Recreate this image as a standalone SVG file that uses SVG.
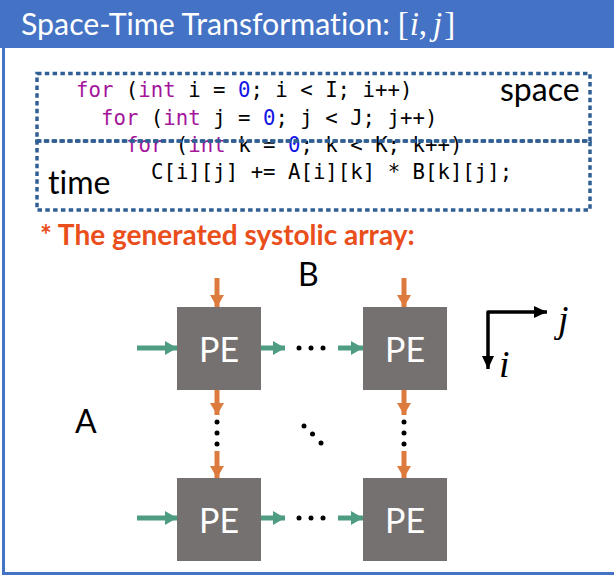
<svg xmlns="http://www.w3.org/2000/svg" width="614" height="576" viewBox="0 0 614 576">
  <style>
    text { font-variant-ligatures: none; font-feature-settings: "liga" 0, "dlig" 0; }
    .title { font-family: Lato, "Liberation Sans", sans-serif; font-size: 30.3px; fill: #ffffff; }
    .math { font-family: "Liberation Serif", "DejaVu Serif", serif; font-style: italic; font-size: 33px; }
    .upright { font-family: "Liberation Serif", "DejaVu Serif", serif; font-style: normal; font-size: 33px; }
    .code { font-family: "DejaVu Sans Mono", "Liberation Mono", monospace; font-size: 20.7px; fill: #000000; }
    .kw { fill: #A3159B; }
    .num { fill: #1414E6; }
    .label { font-family: Lato, "Liberation Sans", sans-serif; font-size: 32px; fill: #000000; }
    .axis-label { font-family: "Liberation Serif", "DejaVu Serif", serif; font-style: italic; font-size: 38px; fill: #000000; }
    .note { font-family: Lato, "Liberation Sans", sans-serif; font-size: 28px; font-weight: bold; fill: #E94E1B; }
    .pe rect { fill: #767171; }
    .pe text { font-family: Lato, "Liberation Sans", sans-serif; font-size: 34px; fill: #ffffff; text-anchor: middle; }
    .region { fill: none; stroke: #2F5F93; stroke-width: 3.5; stroke-dasharray: 4.5 3.3; }
    .flow-b { stroke: #DD7B3F; stroke-width: 5; fill: none; }
    .flow-a { stroke: #4E9C82; stroke-width: 5; fill: none; }
    .axis { stroke: #000000; stroke-width: 3; fill: none; }
    .dot { fill: #000000; }
  </style>
  <defs>
    <marker id="head-b" markerUnits="userSpaceOnUse" markerWidth="14" markerHeight="14" refX="12" refY="7" orient="auto">
      <path d="M0,0 L12,7 L0,14 Z" fill="#DD7B3F"/>
    </marker>
    <marker id="head-a" markerUnits="userSpaceOnUse" markerWidth="14" markerHeight="14" refX="12" refY="7" orient="auto">
      <path d="M0,0 L12,7 L0,14 Z" fill="#4E9C82"/>
    </marker>
    <marker id="head-axis" markerUnits="userSpaceOnUse" markerWidth="14" markerHeight="12" refX="13" refY="6" orient="auto">
      <path d="M0,0 L13,6 L0,12 Z" fill="#000000"/>
    </marker>
  </defs>

  <!-- slide frame and header bar -->
  <rect x="3.5" y="1.5" width="620" height="572" fill="#ffffff" stroke="#4472C4" stroke-width="3"/>
  <rect x="0" y="0" width="614" height="48" fill="#4472C4"/>
  <text class="title" x="21" y="34.5">Space-Time Transformation: <tspan class="upright">[</tspan><tspan class="math" dx="1">i</tspan><tspan class="upright">,</tspan><tspan class="math" dx="6">j</tspan><tspan class="upright" dx="2">]</tspan></text>

  <!-- loop nest -->
  <g id="code">
    <text class="code" x="76" y="97"><tspan class="kw">for</tspan> (<tspan class="kw">int</tspan> i = <tspan class="num">0</tspan>; i &lt; I; i++)</text>
    <text class="code" x="101" y="124.5"><tspan class="kw">for</tspan> (<tspan class="kw">int</tspan> j = <tspan class="num">0</tspan>; j &lt; J; j++)</text>
    <text class="code" x="126" y="152"><tspan class="kw">for</tspan> (<tspan class="kw">int</tspan> k = <tspan class="num">0</tspan>; k &lt; K; k++)</text>
    <text class="code" x="151" y="179">C[i][j] += A[i][k] * B[k][j];</text>
  </g>

  <!-- space / time regions -->
  <g id="space-region">
    <rect class="region" x="37" y="73.5" width="553" height="67.5"/>
    <text class="label" x="500" y="101">space</text>
  </g>
  <g id="time-region">
    <rect class="region" x="37" y="141" width="553" height="69"/>
    <text class="label" x="48" y="194">time</text>
  </g>

  <text id="note" class="note" x="40" y="245">* The generated systolic array:</text>

  <!-- operand labels -->
  <text id="label-B" class="label" x="298" y="286">B</text>
  <text id="label-A" class="label" x="75" y="433">A</text>

  <!-- processing elements -->
  <g id="pe-0-0" class="pe"><rect x="177" y="307" width="84" height="83"/><text x="219" y="362">PE</text></g>
  <g id="pe-0-n" class="pe"><rect x="363" y="307" width="84" height="83"/><text x="405" y="362">PE</text></g>
  <g id="pe-m-0" class="pe"><rect x="177" y="478" width="84" height="83"/><text x="219" y="533">PE</text></g>
  <g id="pe-m-n" class="pe"><rect x="363" y="478" width="84" height="83"/><text x="405" y="533">PE</text></g>

  <!-- data flow -->
  <g id="connectors">
    <!-- B flows down -->
    <line class="flow-b" x1="217" y1="278" x2="217" y2="307" marker-end="url(#head-b)"/>
    <line class="flow-b" x1="217" y1="390" x2="217" y2="415" marker-end="url(#head-b)"/>
    <line class="flow-b" x1="217" y1="451" x2="217" y2="478" marker-end="url(#head-b)"/>
    <line class="flow-b" x1="404" y1="278" x2="404" y2="307" marker-end="url(#head-b)"/>
    <line class="flow-b" x1="404" y1="390" x2="404" y2="415" marker-end="url(#head-b)"/>
    <line class="flow-b" x1="404" y1="451" x2="404" y2="478" marker-end="url(#head-b)"/>
    <!-- A flows right -->
    <line class="flow-a" x1="137" y1="348" x2="177" y2="348" marker-end="url(#head-a)"/>
    <line class="flow-a" x1="261" y1="348" x2="285" y2="348" marker-end="url(#head-a)"/>
    <line class="flow-a" x1="338" y1="348" x2="363" y2="348" marker-end="url(#head-a)"/>
    <line class="flow-a" x1="137" y1="518" x2="177" y2="518" marker-end="url(#head-a)"/>
    <line class="flow-a" x1="261" y1="518" x2="285" y2="518" marker-end="url(#head-a)"/>
    <line class="flow-a" x1="338" y1="518" x2="363" y2="518" marker-end="url(#head-a)"/>
  </g>

  <!-- ellipses -->
  <g id="ellipses">
    <circle class="dot" cx="299" cy="348" r="2.5"/><circle class="dot" cx="311" cy="348" r="2.5"/><circle class="dot" cx="323" cy="348" r="2.5"/>
    <circle class="dot" cx="299" cy="518" r="2.5"/><circle class="dot" cx="311" cy="518" r="2.5"/><circle class="dot" cx="323" cy="518" r="2.5"/>
    <circle class="dot" cx="217" cy="422" r="2.5"/><circle class="dot" cx="217" cy="433" r="2.5"/><circle class="dot" cx="217" cy="444" r="2.5"/>
    <circle class="dot" cx="404" cy="422" r="2.5"/><circle class="dot" cx="404" cy="433" r="2.5"/><circle class="dot" cx="404" cy="444" r="2.5"/>
    <circle class="dot" cx="304" cy="426" r="2.5"/><circle class="dot" cx="312.5" cy="434" r="2.5"/><circle class="dot" cx="321" cy="443" r="2.5"/>
  </g>

  <!-- index axes -->
  <g id="axes">
    <path class="axis" d="M488,369 L488,312 L547,312" />
    <line class="axis" x1="488" y1="312" x2="547" y2="312" marker-end="url(#head-axis)"/>
    <line class="axis" x1="488" y1="312" x2="488" y2="369" marker-end="url(#head-axis)"/>
    <text class="axis-label" x="558" y="332">j</text>
    <text class="axis-label" x="499" y="377">i</text>
  </g>
</svg>
